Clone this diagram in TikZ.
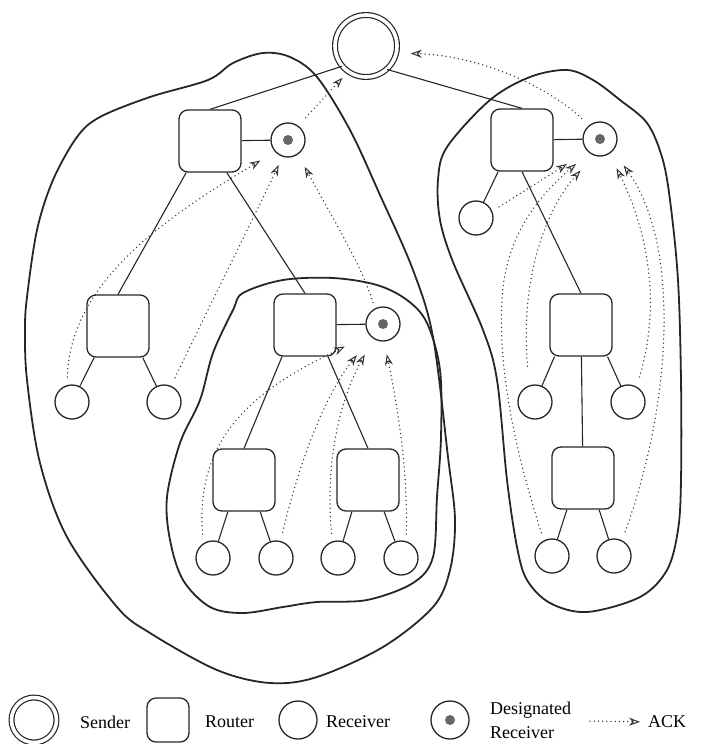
\documentclass[tikz,border=0pt]{standalone}
\usepackage{fontspec}
\setmainfont{Liberation Serif}
\usetikzlibrary{arrows.meta}

\begin{document}
\begin{tikzpicture}[x=1pt,y=-1pt,line join=round,font=\fontsize{18}{24}\selectfont,
    router/.style={draw=black!85,line width=1.3pt,rounded corners=9pt,minimum width=62pt,minimum height=62pt,inner sep=0pt},
    receiver/.style={draw=black!85,line width=1.3pt,circle,minimum size=34pt,inner sep=0pt},
    desig/.style={receiver,path picture={\fill[black!60](path picture bounding box.center)circle(5pt);}},
    sender/.style={circle,draw=black!85,line width=1.2pt,double=white,double distance=3.6pt,minimum size=62pt,inner sep=0pt},
    link/.style={draw=black!85,line width=1.1pt},
    blob/.style={draw=black!85,line width=1.8pt},
    ack/.style={draw=black!80,line width=1.5pt,line cap=round,dash pattern=on 0pt off 4.2pt,-{Stealth[open,length=11pt,width=8pt,line width=1pt]}},
    legtext/.style={anchor=west,inner sep=0pt,align=left}]
    \useasboundingbox(0,0)rectangle(714,744);
    % groups
    \draw[blob]plot[smooth cycle,tension=0.55]coordinates{(150,97)(208,80)(233,63)(263,53)(290,57)(317,77)(350,130)(380,195)(413,270)(433,337)(448,457)(455,520)(450,570)(433,607)(383,647)(317,677)(270,683)(217,670)(150,633)(117,607)(67,537)(40,463)(27,380)(25,330)(27,297)(37,230)(53,180)(77,137)(100,117)};
    \draw[blob]plot[smooth cycle,tension=0.55]coordinates{(243,293)(283,280)(333,278)(377,285)(407,300)(427,323)(440,370)(441,437)(437,497)(433,557)(413,583)(367,600)(317,602)(283,607)(243,613)(210,607)(183,580)(170,540)(167,497)(180,443)(200,400)(213,353)(233,310)};
    \draw[blob]plot[smooth cycle,tension=0.55]coordinates{(447,147)(490,100)(530,77)(567,70)(593,80)(620,100)(647,123)(662,157)(670,200)(678,280)(681,380)(681,480)(678,530)(667,570)(640,597)(587,612)(550,603)(527,580)(517,547)(507,480)(497,380)(483,330)(453,262)(440,220)(438,180)};
    % nodes
    \node[sender](snd)at(366,46){};
    \node[router](r1)at(210,141){};
    \node[router](r2)at(522,140){};
    \node[router](r3)at(118,326){};
    \node[router](r4)at(305,325){};
    \node[router](r5)at(244,480){};
    \node[router](r6)at(368,480){};
    \node[router](r7)at(581,325){};
    \node[router](r8)at(583,478){};
    \node[desig](d1)at(288,140){};
    \node[desig](d2)at(600,139){};
    \node[desig](d3)at(383,324){};
    \node[receiver](c31)at(72,402){};
    \node[receiver](c32)at(164,402){};
    \node[receiver](c51)at(213,558){};
    \node[receiver](c52)at(276,558){};
    \node[receiver](c61)at(338,558){};
    \node[receiver](c62)at(401,558){};
    \node[receiver](c21)at(476,218){};
    \node[receiver](c71)at(535,402){};
    \node[receiver](c72)at(628,402){};
    \node[receiver](c81)at(552,556){};
    \node[receiver](c82)at(614,556){};
    % tree
    \draw[link](snd.220)--(r1.north);
    \draw[link](snd.312)--(r2.north);
    \draw[link](r1)--(d1);
    \draw[link](r2)--(d2);
    \draw[link](r4)--(d3);
    \draw[link](r1.233)--(r3.north);
    \draw[link](r1.298)--(r4.north);
    \draw[link](r3.233)--(c31);
    \draw[link](r3.308)--(c32);
    \draw[link](r4.234)--(r5.north);
    \draw[link](r4.306)--(r6.north);
    \draw[link](r5.243)--(c51);
    \draw[link](r5.297)--(c52);
    \draw[link](r6.243)--(c61);
    \draw[link](r6.297)--(c62);
    \draw[link](r2.233)--(c21);
    \draw[link](r2.south)--(r7.north);
    \draw[link](r7.230)--(c71);
    \draw[link](r7.310)--(c72);
    \draw[link](r7)--(r8);
    \draw[link](r8.243)--(c81);
    \draw[link](r8.297)--(c82);
    % acks
    \draw[ack,shorten <=8pt,shorten >=17pt](c31.106)..controls(70,280)and(170,215)..(d1.222);
    \draw[ack,shorten <=9pt,shorten >=9pt](c32.66)..controls(205,315)and(255,215)..(d1.252);
    \draw[ack,shorten <=6pt,shorten >=14pt](d3.118)..controls(362,265)and(325,205)..(d1.305);
    \draw[ack,shorten <=11pt,shorten >=8pt](d1.54)--(snd.235);
    \draw[ack,shorten <=9pt,shorten >=27pt](c51.123)..controls(194,430)and(265,385)..(d3.218);
    \draw[ack,shorten <=9pt,shorten >=23pt](c52.75)..controls(300,460)and(325,395)..(d3.228);
    \draw[ack,shorten <=8pt,shorten >=18pt](c61.109)..controls(325,460)and(340,400)..(d3.237);
    \draw[ack,shorten <=7pt,shorten >=13pt](c62.73)..controls(408,460)and(395,395)..(d3.274);
    \draw[ack,shorten <=8pt,shorten >=24pt](c21.23)--(d2.224);
    \draw[ack,shorten <=8pt,shorten >=17pt](c81.118)..controls(515,450)and(498,370)..(502,300)..controls(505,235)and(540,195)..(d2.231);
    \draw[ack,shorten <=19pt,shorten >=20pt](c71.109)..controls(520,280)and(545,210)..(d2.250);
    \draw[ack,shorten <=10pt,shorten >=16pt](c72.60)..controls(665,290)and(640,215)..(d2.302);
    \draw[ack,shorten <=9pt,shorten >=18pt](c82.63)..controls(655,450)and(668,360)..(663,290)..controls(660,235)and(645,195)..(d2.318);
    \draw[ack,shorten <=10pt,shorten >=14pt](d2.128)..controls(540,80)and(470,55)..(snd.347);
    % legend
    \node[sender,minimum size=45pt](lsnd)at(34,720){};
    \node[legtext](lsndt)at(80,722){Sender};
    \node[router,minimum width=42pt,minimum height=44pt](lrt)at(168,720){};
    \node[legtext](lrtt)at(205,722){Router};
    \node[receiver,minimum size=38pt](lrc)at(298,720){};
    \node[legtext](lrct)at(326,722){Receiver};
    \node[desig,minimum size=38pt](ldr)at(450,720){};
    \node[legtext](ldrt)at(490,720){Designated\\Receiver};
    \coordinate(lack)at(590,721);
    \node[legtext](lackt)at(648,722){ACK};
    \draw[ack,shorten >=8pt](lack)--(lackt.west);
\end{tikzpicture}
\end{document}
